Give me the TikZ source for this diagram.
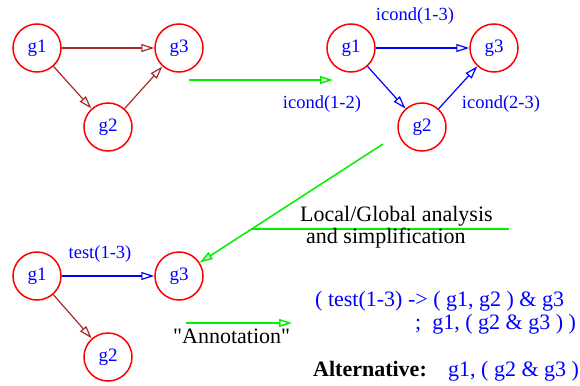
\documentclass[tikz,border=0pt]{standalone}
\usepackage{fontspec}
\setmainfont{Liberation Serif}
\newfontfamily\qfont{Liberation Serif}
\usetikzlibrary{arrows.meta}
\definecolor{fred}{RGB}{255,0,0}
\definecolor{fblue}{RGB}{0,0,255}
\definecolor{fgreen}{RGB}{0,240,0}
\definecolor{fbrown}{RGB}{165,42,42}
\tikzset{
  gnode/.style={circle,draw=fred,line width=1.5pt,minimum size=48pt,inner sep=0pt,text=fblue,font=\fontsize{19}{22}\selectfont},
  lbl/.style={text=fblue,font=\fontsize{18.5}{22}\selectfont,inner sep=0pt},
  bigtxt/.style={font=\fontsize{22}{26}\selectfont,inner sep=0pt},
  tip/.style={-{Triangle[open,length=13pt,width=8pt]}},
  brownarr/.style={tip,draw=fbrown,line width=1.2pt},
  bluearr/.style={tip,draw=fblue,line width=1.2pt},
  greenarr/.style={tip,draw=fgreen,line width=1.5pt},
  greenline/.style={draw=fgreen,line width=1.5pt}
}
\begin{document}
\begin{tikzpicture}[x=1pt,y=-1pt]
\useasboundingbox (0,0) rectangle (580,385);
% top-left graph
\node[gnode] (a1) at (37,48) {g1};
\node[gnode] (a3) at (179,48) {g3};
\node[gnode] (a2) at (108,127) {g2};
\draw[brownarr] (a1) -- (a3);
\draw[brownarr] (a1) -- (a2);
\draw[brownarr] (a2) -- (a3);
% green arrow 1
\coordinate (s1) at (189,80);
\coordinate (e1) at (333,80);
\draw[greenarr] (s1) -- (e1);
% top-right graph
\node[gnode] (b1) at (351,48) {g1};
\node[gnode] (b3) at (494,48) {g3};
\node[gnode] (b2) at (422,127) {g2};
\draw[bluearr] (b1) -- (b3);
\draw[bluearr] (b1) -- (b2);
\draw[bluearr] (b2) -- (b3);
\node[lbl] (l13) at (415,16) {icond(1-3)};
\node[lbl] (l12) at (322,104) {icond(1-2)};
\node[lbl] (l23) at (501,104) {icond(2-3)};
% bottom graph
\node[gnode] (c1) at (37,276) {g1};
\node[gnode] (c3) at (179,276) {g3};
\node[gnode] (c2) at (108,357) {g2};
\draw[bluearr] (c1) -- (c3);
\draw[brownarr] (c1) -- (c2);
\node[lbl] (t13) at (100,254) {test(1-3)};
% green arrow 2
\coordinate (s2) at (383,144);
\draw[greenarr] (s2) -- (c3);
\coordinate (h1) at (251,229);
\coordinate (h2) at (509,229);
\draw[greenline] (h1) -- (h2);
\node[bigtxt,anchor=base west] (loc) at (300,221) {Local/Global analysis};
\node[bigtxt,anchor=base west] (simp) at (306,243) {and simplification};
% annotation arrow
\coordinate (s3) at (186,323);
\coordinate (e3) at (292,323);
\draw[greenarr] (s3) -- (e3);
\node[bigtxt,anchor=base west] (ann) at (173,343) {\qfont "Annotation"};
% right text
\node[bigtxt,text=fblue,anchor=base west] (r1) at (315,306) {( test(1-3) -> ( g1, g2 ) \& g3};
\node[bigtxt,text=fblue,anchor=base west] (r2) at (415,329) {;\ \ g1, ( g2 \& g3 ) )};
\node[bigtxt,anchor=base west] (alt) at (313,376) {\bfseries Alternative:};
\node[bigtxt,text=fblue,anchor=base west] (r3) at (448,376) {g1, ( g2 \& g3 )};
\end{tikzpicture}
\end{document}
